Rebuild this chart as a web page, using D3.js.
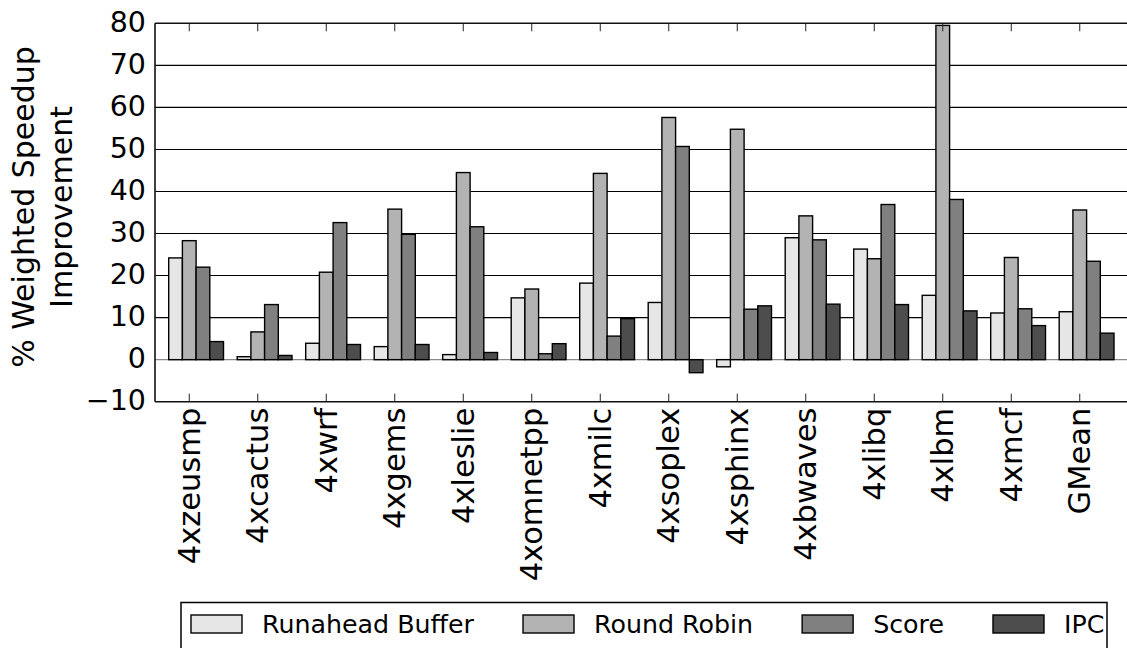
<!DOCTYPE html>
<html>
<head>
<meta charset="utf-8">
<script src="https://cdn.jsdelivr.net/npm/d3@7"></script>
<style>
  html, body { margin: 0; padding: 0; background: #fff; }
  svg { display: block; font-family: "DejaVu Sans", sans-serif; }
</style>
</head>
<body>
<svg id="chart" width="1127" height="648"></svg>
<script>
const categories = ["4xzeusmp","4xcactus","4xwrf","4xgems","4xleslie","4xomnetpp","4xmilc","4xsoplex","4xsphinx","4xbwaves","4xlibq","4xlbm","4xmcf","GMean"];
const seriesNames = ["Runahead Buffer","Round Robin","Score","IPC"];
const seriesColors = ["#e6e6e6","#b3b3b3","#808080","#4d4d4d"];
const runaheadBuffer = [24.2, 0.7, 3.9, 3.1, 1.2, 14.7, 18.2, 13.6, -1.7, 29.0, 26.3, 15.3, 11.1, 11.4];
const roundRobin     = [28.3, 6.6, 20.8, 35.8, 44.5, 16.8, 44.3, 57.6, 54.8, 34.2, 24.0, 79.5, 24.3, 35.6];
const score          = [22.0, 13.1, 32.6, 29.8, 31.6, 1.4, 5.6, 50.7, 12.0, 28.5, 36.9, 38.1, 12.1, 23.4];
const ipc            = [4.3, 1.0, 3.6, 3.6, 1.7, 3.8, 9.75, -3.1, 12.8, 13.2, 13.1, 11.6, 8.1, 6.3];
const yTicks = [-10, 0, 10, 20, 30, 40, 50, 60, 70, 80];
const seriesValues = [runaheadBuffer, roundRobin, score, ipc];

(function () {
const svg = d3.select("#chart");
const pL = 155, pT = 23.3, pB = 401.7, step = 68.5;
const pR = 1145;

const x = d3.scaleBand().domain(categories).range([pL, pL + step * categories.length]).paddingInner(0).paddingOuter(0);
const bw = 0.2 * x.step();
const xs = d3.scaleBand().domain(seriesNames).range([-1.5 * bw, 2.5 * bw]);
const y = d3.scaleLinear().domain([-10, 80]).range([pB, pT]);
const tickX = c => x(c) + x.bandwidth() / 2;

// gridlines
svg.append("g").selectAll("line").data(yTicks.filter(t => t > -10 && t < 80)).join("line")
  .attr("x1", pL).attr("x2", pR)
  .attr("y1", d => y(d)).attr("y2", d => y(d))
  .attr("stroke", d => d === 0 ? "#8a8a8a" : "#000").attr("stroke-width", 1.1);

// bars
const rows = [];
categories.forEach((c, i) => seriesNames.forEach((s, k) => rows.push({c, s, k, v: seriesValues[k][i]})));
svg.append("g").selectAll("rect").data(rows).join("rect")
  .attr("x", d => tickX(d.c) + xs(d.s))
  .attr("width", xs.bandwidth())
  .attr("y", d => y(Math.max(0, d.v)))
  .attr("height", d => Math.abs(y(d.v) - y(0)))
  .attr("fill", d => seriesColors[d.k])
  .attr("stroke", "#000").attr("stroke-width", 1.4);

// x ticks (inside, top and bottom)
const xt = svg.append("g");
xt.selectAll("line.b").data(categories).join("line").attr("class", "b")
  .attr("x1", tickX).attr("x2", tickX).attr("y1", pB).attr("y2", pB - 8)
  .attr("stroke", "#222").attr("stroke-width", 1);
xt.selectAll("line.t").data(categories).join("line").attr("class", "t")
  .attr("x1", tickX).attr("x2", tickX).attr("y1", pT).attr("y2", pT + 8)
  .attr("stroke", "#222").attr("stroke-width", 1);

// spines
svg.append("line").attr("x1", pL).attr("x2", pL).attr("y1", pT).attr("y2", pB).attr("stroke", "#111").attr("stroke-width", 1.6);
svg.append("line").attr("x1", pL).attr("x2", pR).attr("y1", pT).attr("y2", pT).attr("stroke", "#111").attr("stroke-width", 1.6);
svg.append("line").attr("x1", pL).attr("x2", pR).attr("y1", pB).attr("y2", pB).attr("stroke", "#111").attr("stroke-width", 1.6);

// y tick labels
svg.append("g").selectAll("text").data(yTicks).join("text")
  .attr("x", pL - 9).attr("y", d => y(d)).attr("dy", "0.3em")
  .attr("text-anchor", "end").attr("font-size", 28.5).attr("fill", "#000")
  .text(d => d < 0 ? "\u2212" + Math.abs(d) : d);

// x tick labels
svg.append("g").selectAll("text").data(categories).join("text")
  .attr("transform", d => `translate(${tickX(d)},${pB + 6}) rotate(-90)`)
  .attr("dy", "0.35em").attr("text-anchor", "end").attr("font-size", 30.5).attr("fill", "#000")
  .text(d => d);

// y axis label
const yl = svg.append("text").attr("transform", "translate(34,207) rotate(-90)")
  .attr("text-anchor", "middle").attr("font-size", 30).attr("fill", "#000");
yl.append("tspan").attr("x", 0).attr("y", 0).text("% Weighted Speedup");
yl.append("tspan").attr("x", 0).attr("y", 38).text("Improvement");

// legend
const lg = svg.append("g");
lg.append("rect").attr("x", 181).attr("y", 602.5).attr("width", 926).attr("height", 60)
  .attr("fill", "#fff").attr("stroke", "#000").attr("stroke-width", 1.5);
let lx = 191;
seriesNames.forEach((s, k) => {
  lg.append("rect").attr("x", lx).attr("y", 615).attr("width", 51).attr("height", 18)
    .attr("fill", seriesColors[k]).attr("stroke", "#000").attr("stroke-width", 1.4);
  const t = lg.append("text").attr("x", lx + 71).attr("y", 633).attr("font-size", 25.3).attr("fill", "#000").text(s);
  lx += 71 + t.node().getComputedTextLength() + 49;
});
})();
</script>
</body>
</html>
